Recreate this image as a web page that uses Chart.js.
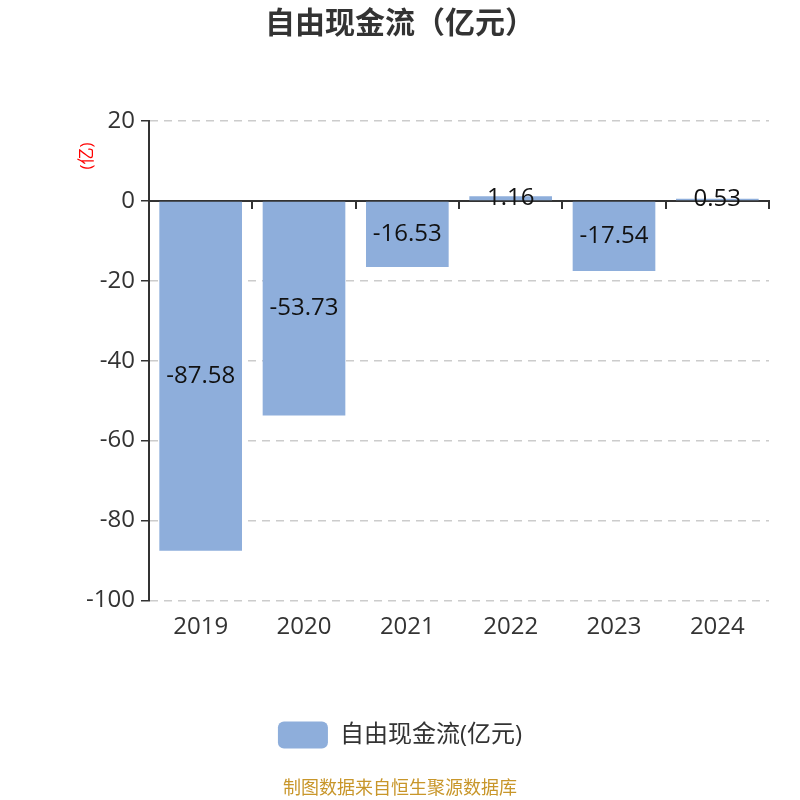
<!DOCTYPE html>
<html>
<head>
<meta charset="utf-8">
<script src="https://cdn.jsdelivr.net/npm/chart.js@4/dist/chart.umd.min.js"></script>
<style>
html,body{margin:0;padding:0;background:#fff}
</style>
</head>
<body>
<canvas id="grafico" width="800" height="800"></canvas>
<script>
const anios = ['2019', '2020', '2021', '2022', '2023', '2024']
const valores = [-87.58, -53.73, -16.53, 1.16, -17.54, 0.53]
const ejeMin = -100
const ejeMax = 20
const ejePaso = 20

const fuente = '"Open Sans", "Noto Sans CJK SC", sans-serif'
const colorBarra = '#8eaedb'
const colorTexto = '#333333'

/* escribe el valor en el centro de cada barra y la unidad del eje */
const etiquetas = {
    id: 'etiquetas',
    afterDatasetsDraw(chart) {
        const ctx = chart.ctx
        const meta = chart.getDatasetMeta(0)
        ctx.save()
        ctx.font = '24px ' + fuente
        ctx.fillStyle = '#111'
        ctx.textAlign = 'center'
        ctx.textBaseline = 'middle'
        meta.data.forEach((barra, i) => {
            ctx.fillText(valores[i].toFixed(2), barra.x, (barra.y + barra.base) / 2)
        })
        const area = chart.chartArea
        ctx.translate(area.left - 62, area.top + 35)
        ctx.rotate(-Math.PI / 2)
        ctx.font = '17px ' + fuente
        ctx.fillStyle = '#ff0000'
        ctx.fillText('(亿)', 0, 0)
        ctx.restore()
    }
}

new Chart(document.getElementById('grafico'), {
    type: 'bar',
    data: {
        labels: anios,
        datasets: [{
            label: '自由现金流(亿元)',
            data: valores,
            backgroundColor: colorBarra,
            borderWidth: 0,
            categoryPercentage: 1,
            barPercentage: 0.8
        }]
    },
    options: {
        responsive: false,
        animation: false,
        layout: { padding: { left: 31, right: 31, top: 0, bottom: 0 } },
        scales: {
            x: {
                position: 'bottom',
                grid: { display: false },
                border: { display: false },
                ticks: { font: { size: 24, family: fuente }, color: colorTexto, padding: 4 },
                afterFit(scale) { scale.height = 111 }
            },
            cero: {
                type: 'category',
                axis: 'x',
                labels: anios,
                position: { y: 0 },
                offset: true,
                grid: { offset: true, drawOnChartArea: false, tickLength: 7, color: colorTexto, lineWidth: 2 },
                border: { color: colorTexto, width: 2 },
                ticks: { display: false }
            },
            y: {
                min: ejeMin,
                max: ejeMax,
                ticks: { stepSize: ejePaso, font: { size: 24, family: fuente }, color: colorTexto, padding: 6 },
                grid: {
                    color: c => c.tick && c.tick.value === 0 ? 'rgba(0,0,0,0)' : '#cccccc',
                    tickColor: colorTexto,
                    tickLength: 8,
                    lineWidth: 1.5
                },
                border: { color: colorTexto, width: 2, dash: [8, 6] },
                afterFit(scale) { scale.width = 118 }
            }
        },
        plugins: {
            title: {
                display: true,
                text: '自由现金流（亿元）',
                color: colorTexto,
                font: { size: 30, weight: 'bold', family: fuente },
                padding: { top: 6, bottom: 79 }
            },
            subtitle: {
                display: true,
                position: 'bottom',
                text: '制图数据来自恒生聚源数据库',
                color: '#c8962a',
                font: { size: 18, family: fuente },
                padding: { top: 20, bottom: 0 }
            },
            legend: {
                position: 'bottom',
                labels: {
                    boxWidth: 50,
                    boxHeight: 27,
                    useBorderRadius: true,
                    borderRadius: 6,
                    color: colorTexto,
                    font: { size: 24, family: fuente },
                    padding: 10
                }
            },
            tooltip: { enabled: false }
        }
    },
    plugins: [etiquetas]
})
</script>
</body>
</html>
